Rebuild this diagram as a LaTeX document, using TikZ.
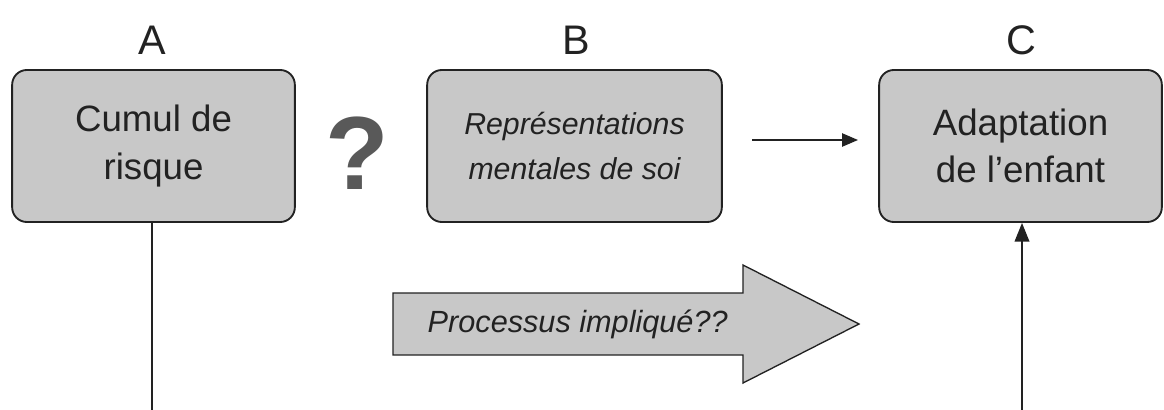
\documentclass[tikz,border=0pt]{standalone}
\usepackage{fontspec}
\setmainfont{Liberation Sans}
\usetikzlibrary{arrows.meta}
\definecolor{boxgray}{HTML}{C8C8C8}
\definecolor{ink}{HTML}{222222}
\tikzset{
  box/.style={draw=ink, line width=1.4pt, fill=boxgray, rounded corners=11pt, align=center, text=ink, inner sep=0pt},
  head/.style={font=\fontsize{31}{31}\selectfont, text=ink},
  conn/.style={draw=ink, line width=1.2pt},
  bigarrow/.style={draw=ink, line width=1pt, fill=boxgray},
}
\begin{document}
\begin{tikzpicture}[x=0.75pt,y=-0.75pt]
\useasboundingbox (0,0) rectangle (1164,410);
\node[head] (la) at (152,40) {A};
\node[head] (lb) at (576,40) {B};
\node[head] (lc) at (1021,40) {C};
\node[box, minimum width=212pt, minimum height=114pt, font=\fontsize{27.5}{36}\selectfont] (A) at (153.5,146) {Cumul de\\risque};
\node[box, minimum width=221pt, minimum height=114pt, font=\fontsize{22.7}{34}\selectfont\itshape] (B) at (574.5,146) {Représentations\\mentales de soi};
\node[box, minimum width=212pt, minimum height=114pt, font=\fontsize{27.5}{35}\selectfont] (C) at (1020.5,146) {Adaptation\\de l’enfant};
\node[font=\fontsize{78}{78}\selectfont\bfseries, text=ink!75] (q) at (357,153) {?};
\coordinate (bs) at (752,140);
\coordinate (be) at (858,140);
\draw[conn, -{Triangle[length=12pt,width=10pt]}] (bs) -- (be);
\draw[bigarrow] (393,293) -- (743,293) -- (743,265) -- (859,324) -- (743,383) -- (743,355) -- (393,355) -- cycle;
\node[font=\fontsize{23}{23}\selectfont\itshape, text=ink, anchor=west] (pt) at (423,324) {Processus impliqué??};
\coordinate (abot) at (152,410);
\coordinate (cbot) at (1022,410);
\draw[conn] (A.south -| abot) -- (abot);
\draw[conn, -{Triangle[length=14pt,width=11pt]}] (cbot) -- (cbot |- C.south);
\end{tikzpicture}
\end{document}
